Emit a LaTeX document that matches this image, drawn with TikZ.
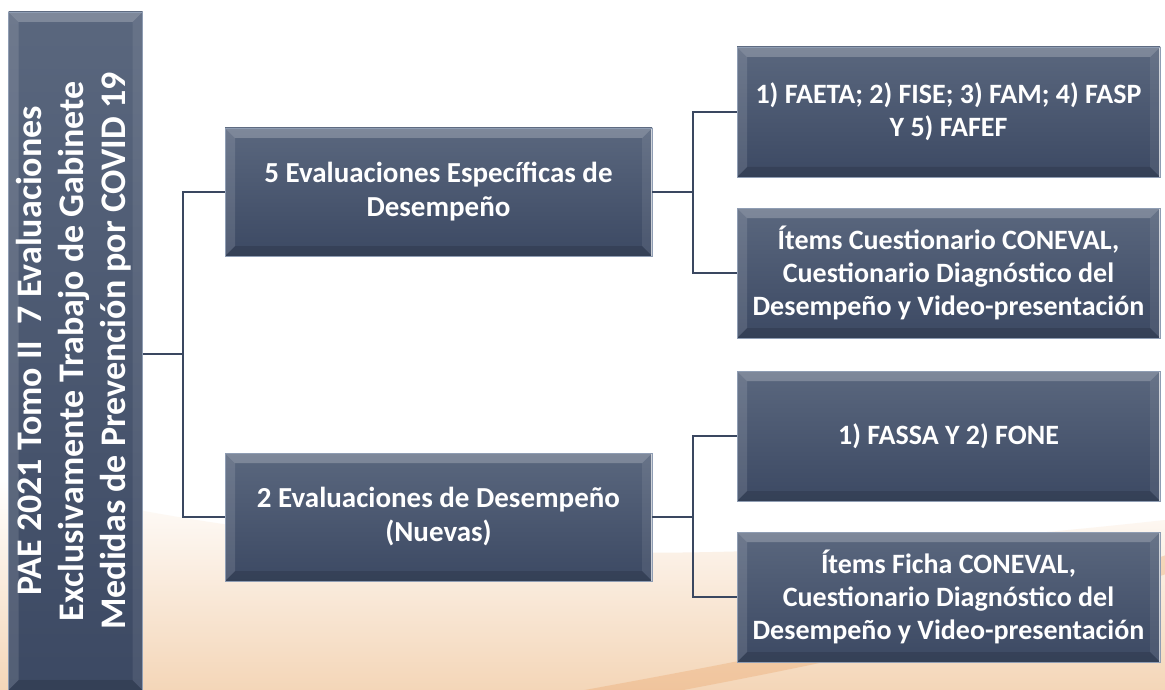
\documentclass[tikz,border=0pt]{standalone}
\usepackage{fontspec}
\setmainfont{Carlito}
\usetikzlibrary{positioning}

\definecolor{boxtop}{HTML}{5A677E}
\definecolor{boxbot}{HTML}{3C4963}
\definecolor{boxedge}{HTML}{8F9DB3}
\definecolor{linkcol}{HTML}{3A4760}
\definecolor{peach}{HTML}{F4D6B8}
\definecolor{streak}{HTML}{EBA56A}

\tikzset{
  box/.style={rectangle, align=center, text=white, inner sep=4pt,
    top color=boxtop, bottom color=boxbot, draw=boxedge, line width=0.7pt,
    path picture={
      \fill[white, opacity=0.22] (path picture bounding box.north west) -- (path picture bounding box.north east)
        -- ([shift={(-10pt,-10pt)}]path picture bounding box.north east) -- ([shift={(10pt,-10pt)}]path picture bounding box.north west) -- cycle;
      \fill[white, opacity=0.12] (path picture bounding box.north west) -- ([shift={(10pt,-10pt)}]path picture bounding box.north west)
        -- ([shift={(10pt,10pt)}]path picture bounding box.south west) -- (path picture bounding box.south west) -- cycle;
      \fill[white, opacity=0.08] (path picture bounding box.north east) -- (path picture bounding box.south east)
        -- ([shift={(-10pt,10pt)}]path picture bounding box.south east) -- ([shift={(-10pt,-10pt)}]path picture bounding box.north east) -- cycle;
      \fill[black, opacity=0.12] (path picture bounding box.south west) -- (path picture bounding box.south east)
        -- ([shift={(-10pt,10pt)}]path picture bounding box.south east) -- ([shift={(10pt,10pt)}]path picture bounding box.south west) -- cycle;
      \draw[white, opacity=0.7, line width=1.2pt] (path picture bounding box.north east) -- (path picture bounding box.south east);
    }},
  midbox/.style={box, minimum width=427pt, minimum height=128pt,
    font=\bfseries\fontsize{29}{34}\selectfont},
  leafbox/.style={box, minimum width=423pt, minimum height=130pt,
    font=\bfseries\fontsize{28}{33}\selectfont},
  link/.style={draw=linkcol, line width=2.4pt}
}

\begin{document}
\begin{tikzpicture}[x=1pt, y=-1pt]
  \useasboundingbox (0,0) rectangle (1165,690);

  % background
  \fill[white] (0,0) rectangle (1165,690);
  \shade[top color=white, bottom color=peach]
    (0,480) .. controls (400,580) and (800,560) .. (1165,520) -- (1165,690) -- (0,690) -- cycle;
  \draw[streak, opacity=0.35, line width=18pt, line cap=round]
    (580,700) .. controls (800,660) and (1000,620) .. (1180,560);

  \node[box, minimum width=131pt, minimum height=678pt] (root) at (75.5,351)
    {\rotatebox{90}{\bfseries\fontsize{36}{42}\selectfont
      \begin{tabular}{@{}c@{}}PAE 2021 Tomo II\ \ 7 Evaluaciones\\
        Exclusivamente Trabajo de Gabinete\\
        Medidas de Prevención por COVID 19\end{tabular}}};

  \node[midbox] (esp) at (438.5,192) {5 Evaluaciones Específicas de\\Desempeño};
  \node[midbox] (nuevas) at (438.5,517) {2 Evaluaciones de Desempeño\\(Nuevas)};

  \node[leafbox] (fondos1) at (948.5,112) {1) FAETA; 2) FISE; 3) FAM; 4) FASP\\Y 5) FAFEF};
  \node[leafbox] (items1) at (948.5,273) {Ítems Cuestionario CONEVAL,\\Cuestionario Diagnóstico del\\Desempeño y Video-presentación};
  \node[leafbox] (fondos2) at (948.5,436) {1) FASSA Y 2) FONE};
  \node[leafbox] (items2) at (948.5,597) {Ítems Ficha CONEVAL,\\Cuestionario Diagnóstico del\\Desempeño y Video-presentación};

  \coordinate (busL) at (183,354);
  \coordinate (busA) at (693,192);
  \coordinate (busB) at (693,517);

  \draw[link] (root.east |- busL) -- (busL);
  \draw[link] (esp.west) -| (busL) |- (nuevas.west);
  \draw[link] (esp.east) -- (busA);
  \draw[link] (fondos1.west) -| (busA) |- (items1.west);
  \draw[link] (nuevas.east) -- (busB);
  \draw[link] (fondos2.west) -| (busB) |- (items2.west);
\end{tikzpicture}
\end{document}
